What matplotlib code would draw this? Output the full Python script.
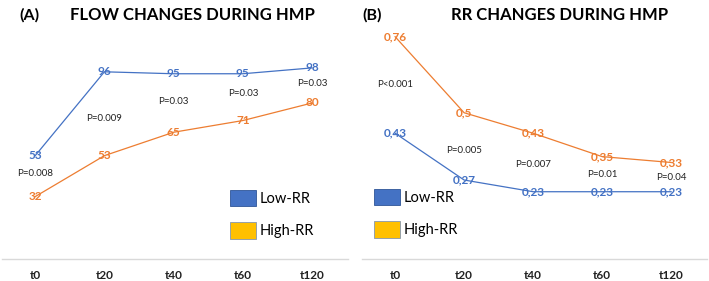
import matplotlib
matplotlib.use("Agg")
import matplotlib.pyplot as plt
from matplotlib.patches import Patch

plt.rcParams['font.family'] = ['Lato', 'DejaVu Sans']

categories = ["t0", "t20", "t40", "t60", "t120"]

flow_low = [53, 96, 95, 95, 98]
flow_high = [32, 53, 65, 71, 80]
flow_p = ["P=0.008", "P=0.009", "P=0.03", "P=0.03", "P=0.03"]
flow_p_y = [44, 72, 81, 85, 90]

rr_low = [0.43, 0.27, 0.23, 0.23, 0.23]
rr_high = [0.76, 0.5, 0.43, 0.35, 0.33]
rr_p = ["P<0.001", "P=0.005", "P=0.007", "P=0.01", "P=0.04"]
rr_p_y = [0.595, 0.37, 0.322, 0.288, 0.28]

BLUE = "#4472C4"
ORANGE = "#ED7D31"
YELLOW = "#FFC000"
GRID = "#D9D9D9"

W, H = 709, 281
fig = plt.figure(figsize=(W / 100, H / 100), dpi=100)

def px_axes(x0, x1, y_top, y_bot):
    return fig.add_axes([x0 / W, (H - y_bot) / H, (x1 - x0) / W, (y_bot - y_top) / H])

axA = px_axes(2, 348, 25, 259)
axB = px_axes(362, 707, 25, 259)

def style(ax, ymax):
    ax.set_xlim(-0.48, 4.52)
    ax.set_ylim(0, ymax)
    for s in ["top", "right", "left"]:
        ax.spines[s].set_visible(False)
    ax.spines["bottom"].set_color(GRID)
    ax.spines["bottom"].set_linewidth(1)
    ax.set_yticks([])
    ax.set_xticks(range(len(categories)))
    ax.set_xticklabels(categories, fontsize=8.5, fontweight="bold", color="#222222")
    ax.tick_params(axis="x", length=0, pad=8)
    ax.patch.set_alpha(0)

def fmt_flow(v):
    return str(v)

def fmt_rr(v):
    return ("%g" % v).replace(".", ",")

def draw(ax, low, high, fmt, pvals, pys):
    x = list(range(len(categories)))
    ax.plot(x, low, color=BLUE, lw=0.9)
    ax.plot(x, high, color=ORANGE, lw=0.9)
    for xi, v in zip(x, low):
        ax.text(xi, v, fmt(v), color=BLUE, fontsize=8.5, ha="center", va="center", fontweight="bold")
    for xi, v in zip(x, high):
        ax.text(xi, v, fmt(v), color=ORANGE, fontsize=8.5, ha="center", va="center", fontweight="bold")
    for xi, p, py in zip(x, pvals, pys):
        ax.text(xi, py, p, color="#222222", fontsize=7, ha="center", va="center")

style(axA, 120)
style(axB, 0.8)
draw(axA, flow_low, flow_high, fmt_flow, flow_p, flow_p_y)
draw(axB, rr_low, rr_high, fmt_rr, rr_p, rr_p_y)

def legend(ax, x0_px, top_px, ax_x0, ax_w):
    handles = [Patch(facecolor=BLUE, edgecolor="#2F5597", lw=0.6),
               Patch(facecolor=YELLOW, edgecolor="#8497B0", lw=0.6)]
    ax.legend(handles, ["Low-RR", "High-RR"], loc="upper left",
              bbox_to_anchor=((x0_px - ax_x0) / ax_w, (259 - top_px) / 234),
              frameon=False, fontsize=10.5, handlelength=1.75, handleheight=1.35,
              handletextpad=0.3, labelspacing=1.1, borderpad=0, borderaxespad=0)

legend(axA, 230, 190, 2, 346)
legend(axB, 374, 189, 362, 345)

fig.text(19 / W, 1 - 15 / H, "(A)", fontsize=11.5, fontweight="bold", ha="left", va="center")
fig.text(192 / W, 1 - 15 / H, "FLOW CHANGES DURING HMP", fontsize=12, fontweight="bold", ha="center", va="center")
fig.text(362 / W, 1 - 15 / H, "(B)", fontsize=11.5, fontweight="bold", ha="left", va="center")
fig.text(560 / W, 1 - 15 / H, "RR CHANGES DURING HMP", fontsize=12, fontweight="bold", ha="center", va="center")

fig.savefig("out.png", dpi=100)
